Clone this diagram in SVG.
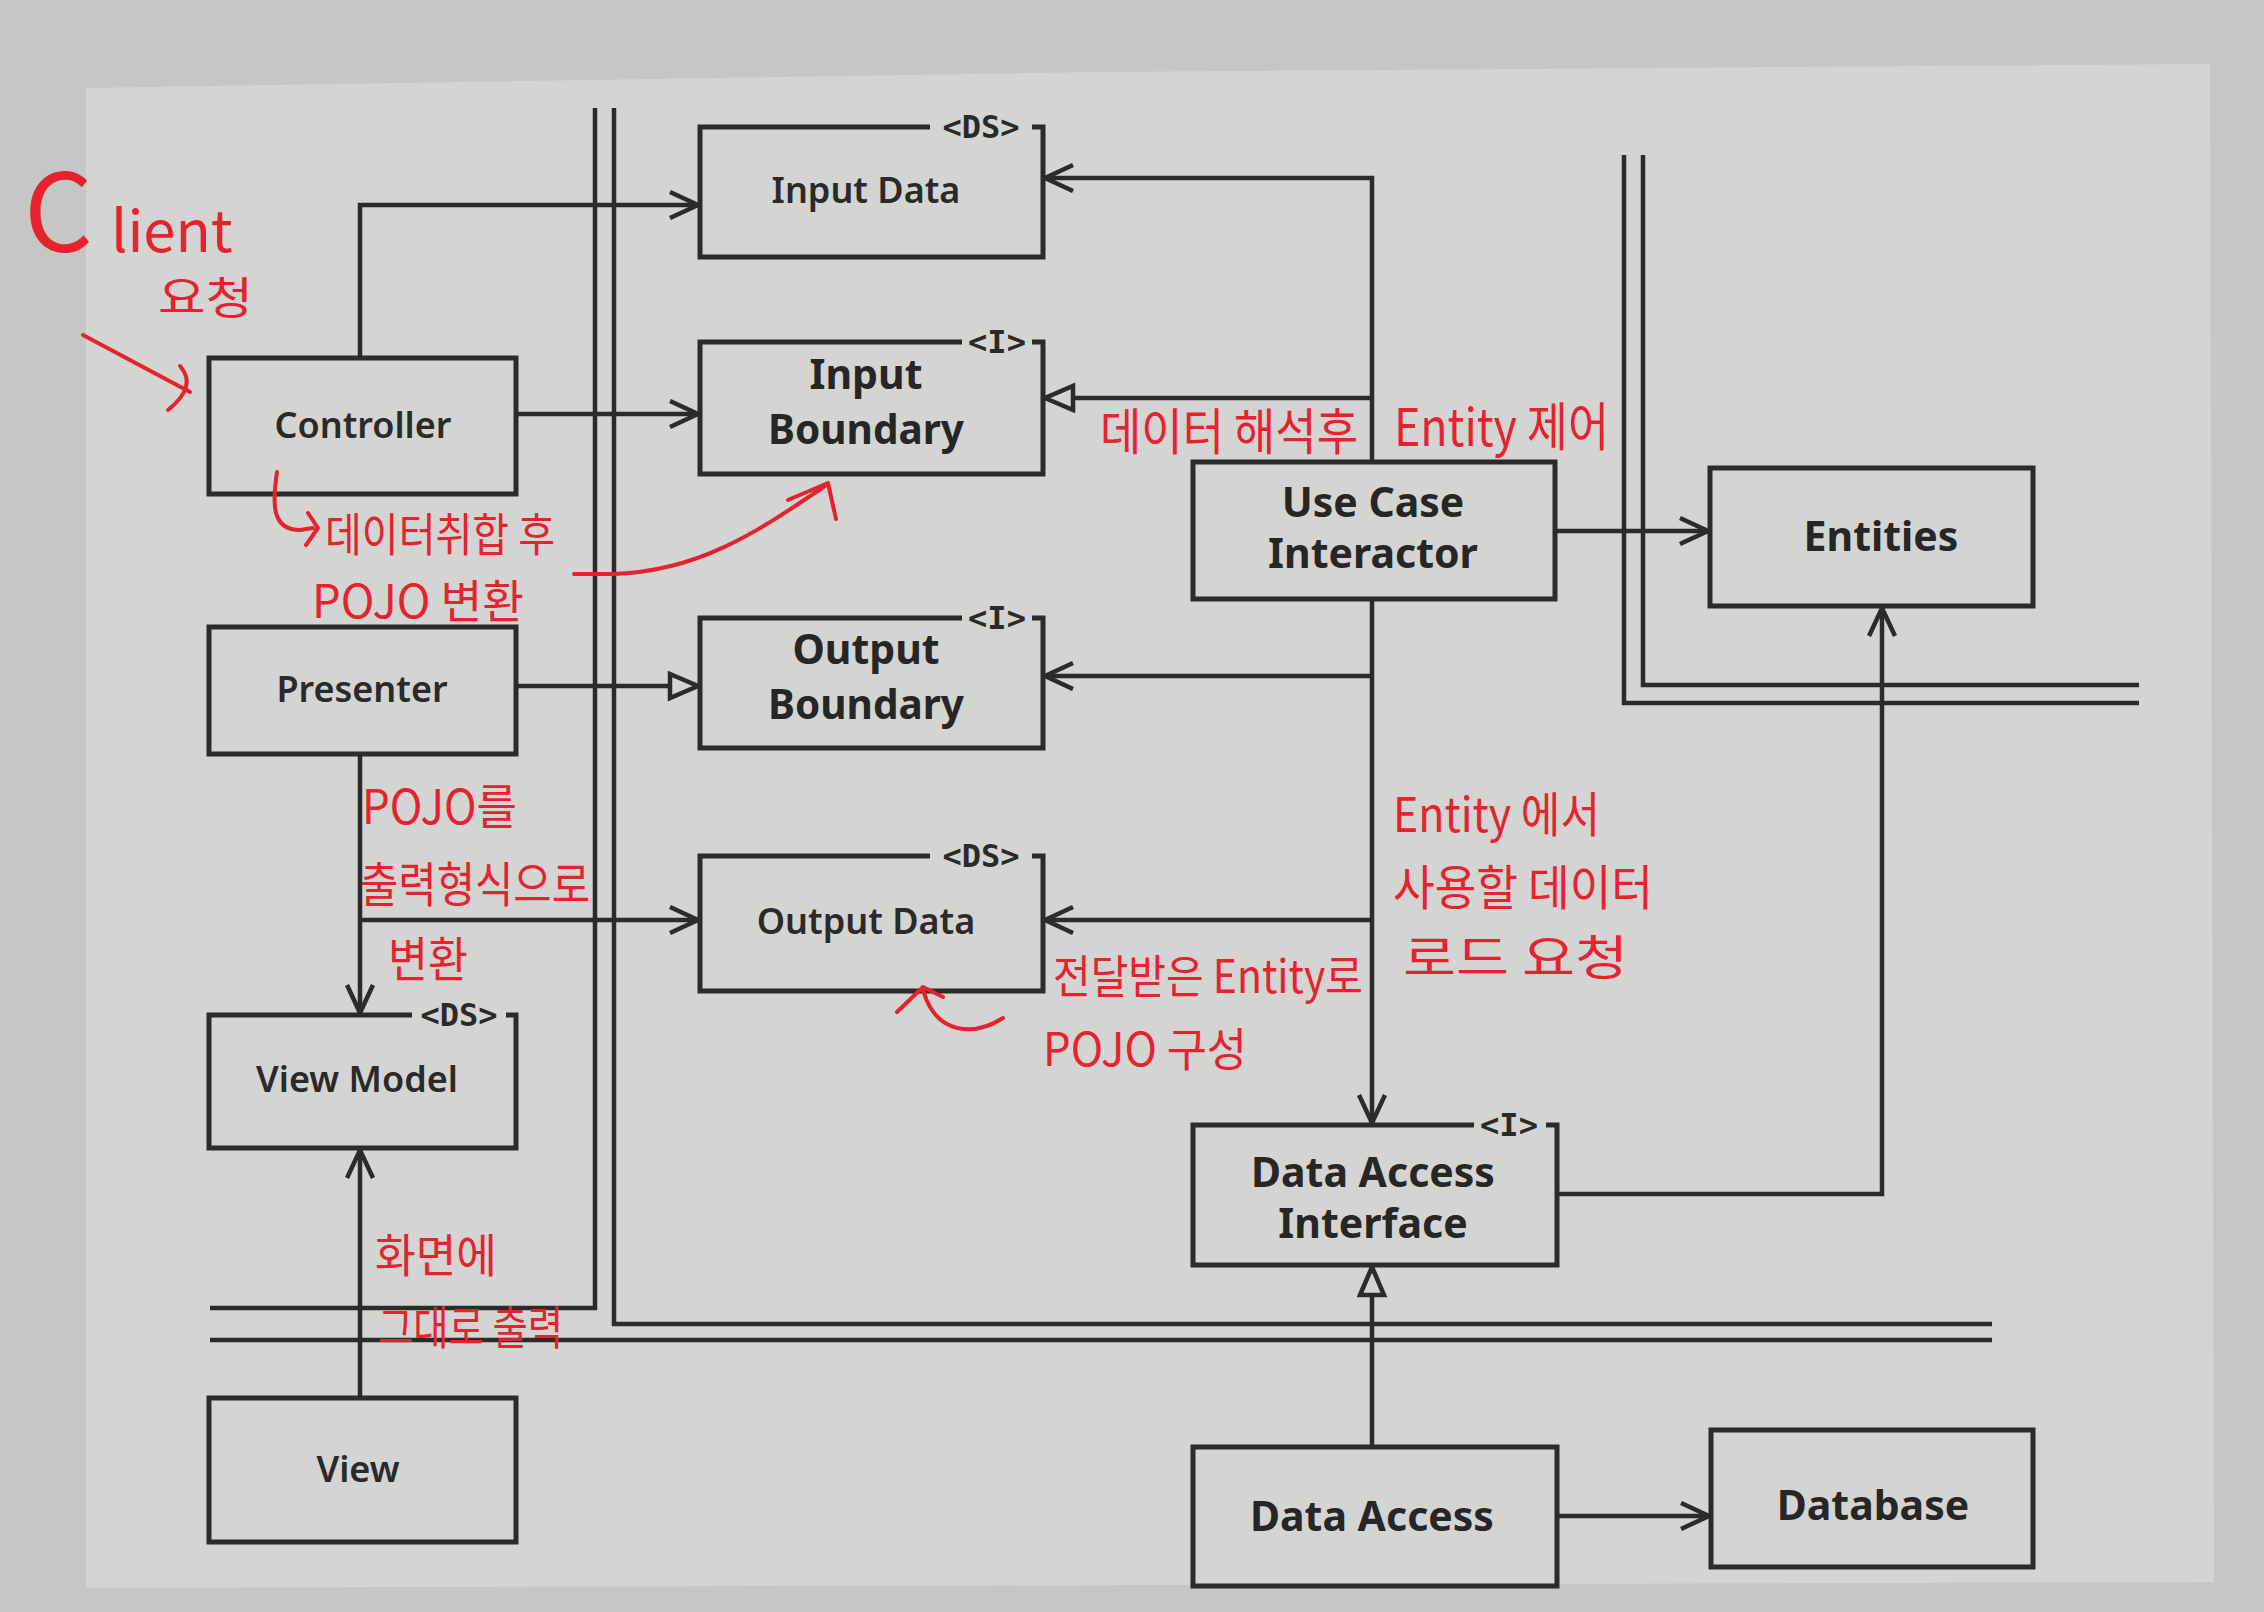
<svg xmlns="http://www.w3.org/2000/svg" width="2264" height="1612" viewBox="0 0 2264 1612">
<defs>
<style>
.box{fill:#d4d4d2;stroke:#2b2b2b;stroke-width:5;stroke-linejoin:miter}
.edge{fill:none;stroke:#2b2b2b;stroke-width:4.5}
.bnd{fill:none;stroke:#2b2b2b;stroke-width:4.5}
.lbl{font-family:"Noto Sans","Open Sans","DejaVu Sans",sans-serif;font-weight:600;font-size:36px;fill:#2a2a2a;text-anchor:middle}
.lblb{font-family:"Noto Sans","Open Sans","DejaVu Sans",sans-serif;font-weight:700;font-size:41px;fill:#262626;text-anchor:middle}
.st{font-family:"DejaVu Sans Mono","Liberation Mono",monospace;font-weight:bold;font-size:32px;fill:#2a2a2a;text-anchor:middle}
.hw{font-family:"Noto Sans CJK KR","Noto Sans",sans-serif;font-weight:400;fill:#e5222d}
.ha{fill:none;stroke:#e5222d;stroke-width:4;stroke-linecap:round;stroke-linejoin:round}
</style>
<marker id="open" markerUnits="userSpaceOnUse" markerWidth="40" markerHeight="40" refX="30" refY="15" orient="auto" viewBox="0 0 40 40">
<path d="M2,2 L30,15 L2,28" fill="none" stroke="#2b2b2b" stroke-width="4.5"/>
</marker>
<marker id="tri" markerUnits="userSpaceOnUse" markerWidth="40" markerHeight="40" refX="31" refY="15" orient="auto" viewBox="0 0 40 40">
<path d="M3,3 L31,15 L3,27 Z" fill="#d4d4d2" stroke="#2b2b2b" stroke-width="4.5"/>
</marker>
</defs>

<rect x="0" y="0" width="2264" height="1612" fill="#c6c6c4"/>
<polygon points="86,88 1100,72 2210,64 2214,1582 86,1588" fill="#d4d4d2"/>

<g id="boundaries">
<path class="bnd" d="M595,108 V1308 H210"/>
<path class="bnd" d="M614,108 V1324 H1992"/>
<path class="bnd" d="M210,1340 H1992"/>
<path class="bnd" d="M1624,155 V703 H2139"/>
<path class="bnd" d="M1643,155 V685 H2139"/>
</g>

<g id="connectors">
<path class="edge" d="M360,358 V205 H698" marker-end="url(#open)"/>
<path class="edge" d="M516,414 H698" marker-end="url(#open)"/>
<path class="edge" d="M516,686 H698" marker-end="url(#tri)"/>
<path class="edge" d="M360,754 V1013" marker-end="url(#open)"/>
<path class="edge" d="M360,920 H698" marker-end="url(#open)"/>
<path class="edge" d="M360,1398 V1150" marker-end="url(#open)"/>
<path class="edge" d="M1372,462 V178 H1045" marker-end="url(#open)"/>
<path class="edge" d="M1372,398 H1045" marker-end="url(#tri)"/>
<path class="edge" d="M1555,531 H1708" marker-end="url(#open)"/>
<path class="edge" d="M1372,599 V1123" marker-end="url(#open)"/>
<path class="edge" d="M1372,676 H1045" marker-end="url(#open)"/>
<path class="edge" d="M1372,920 H1045" marker-end="url(#open)"/>
<path class="edge" d="M1557,1194 H1882 V608" marker-end="url(#open)"/>
<path class="edge" d="M1372,1447 V1267" marker-end="url(#tri)"/>
<path class="edge" d="M1557,1516 H1709" marker-end="url(#open)"/>
</g>

<g id="input-data">
<path class="box" d="M1032,127 H1043 V257 H700 V127 H930"/>
<text class="st" x="981" y="138">&lt;DS&gt;</text>
<text class="lbl" x="866" y="203">Input Data</text>
</g>
<g id="input-boundary">
<path class="box" d="M1032,342 H1043 V474 H700 V342 H962"/>
<text class="st" x="997" y="353">&lt;I&gt;</text>
<text class="lblb" x="866" y="389" font-size="39">Input</text>
<text class="lblb" x="866" y="444" font-size="39" textLength="196" lengthAdjust="spacingAndGlyphs">Boundary</text>
</g>
<g id="output-boundary">
<path class="box" d="M1032,618 H1043 V748 H700 V618 H962"/>
<text class="st" x="997" y="629">&lt;I&gt;</text>
<text class="lblb" x="866" y="664" font-size="39">Output</text>
<text class="lblb" x="866" y="719" font-size="39" textLength="196" lengthAdjust="spacingAndGlyphs">Boundary</text>
</g>
<g id="output-data">
<path class="box" d="M1032,856 H1043 V991 H700 V856 H930"/>
<text class="st" x="981" y="867">&lt;DS&gt;</text>
<text class="lbl" x="866" y="934">Output Data</text>
</g>
<g id="controller">
<rect class="box" x="209" y="358" width="307" height="136"/>
<text class="lbl" x="363" y="438">Controller</text>
</g>
<g id="presenter">
<rect class="box" x="209" y="627" width="307" height="127"/>
<text class="lbl" x="362" y="702">Presenter</text>
</g>
<g id="view-model">
<path class="box" d="M506,1015 H516 V1148 H209 V1015 H412"/>
<text class="st" x="459" y="1026">&lt;DS&gt;</text>
<text class="lbl" x="357" y="1092">View Model</text>
</g>
<g id="view">
<rect class="box" x="209" y="1398" width="307" height="144"/>
<text class="lbl" x="358" y="1482">View</text>
</g>
<g id="use-case-interactor">
<rect class="box" x="1193" y="462" width="362" height="137"/>
<text class="lblb" x="1373" y="517">Use Case</text>
<text class="lblb" x="1373" y="568">Interactor</text>
</g>
<g id="entities">
<rect class="box" x="1710" y="468" width="323" height="138"/>
<text class="lblb" x="1881" y="551">Entities</text>
</g>
<g id="data-access-interface">
<path class="box" d="M1546,1125 H1557 V1265 H1193 V1125 H1474"/>
<text class="st" x="1509" y="1136">&lt;I&gt;</text>
<text class="lblb" x="1373" y="1187">Data Access</text>
<text class="lblb" x="1373" y="1238">Interface</text>
</g>
<g id="data-access">
<rect class="box" x="1193" y="1447" width="364" height="139"/>
<text class="lblb" x="1372" y="1531">Data Access</text>
</g>
<g id="database">
<rect class="box" x="1711" y="1430" width="322" height="137"/>
<text class="lblb" x="1873" y="1520">Database</text>
</g>

<g id="annotations">
<text class="hw" x="24" y="252" font-weight="300"><tspan font-size="108">C</tspan><tspan font-size="58" dx="18">lient</tspan></text>
<text class="hw" x="158" y="314" font-size="44" textLength="95" lengthAdjust="spacingAndGlyphs">요청</text>
<path class="ha" d="M83,335 L190,392 M180,366 Q198,386 168,410"/>

<path class="ha" d="M277,472 C272,505 272,530 300,530 L313,528 M308,513 L318,528 L306,545"/>
<text class="hw" x="325" y="551" font-size="46" textLength="230" lengthAdjust="spacingAndGlyphs">데이터취합 후</text>
<text class="hw" x="312" y="618" font-size="46" textLength="212" lengthAdjust="spacingAndGlyphs">POJO 변환</text>
<path class="ha" d="M574,574 L612,574 C700,572 760,530 828,484 M788,500 L828,483 L836,519"/>

<text class="hw" x="1100" y="450" font-size="50" textLength="258" lengthAdjust="spacingAndGlyphs">데이터 해석후</text>
<text class="hw" x="1394" y="446" font-size="52" textLength="215" lengthAdjust="spacingAndGlyphs">Entity 제어</text>

<text class="hw" x="1393" y="832" font-size="48" textLength="207" lengthAdjust="spacingAndGlyphs">Entity 에서</text>
<text class="hw" x="1393" y="905" font-size="48" textLength="260" lengthAdjust="spacingAndGlyphs">사용할 데이터</text>
<text class="hw" x="1403" y="975" font-size="48" textLength="225" lengthAdjust="spacingAndGlyphs">로드 요청</text>

<text class="hw" x="1053" y="993" font-size="46" textLength="310" lengthAdjust="spacingAndGlyphs">전달받은 Entity로</text>
<text class="hw" x="1043" y="1066" font-size="46" textLength="204" lengthAdjust="spacingAndGlyphs">POJO 구성</text>
<path class="ha" d="M1003,1018 C975,1036 936,1036 923,990 M897,1012 L923,987 L943,997"/>

<text class="hw" x="362" y="824" font-size="48" textLength="155" lengthAdjust="spacingAndGlyphs">POJO를</text>
<text class="hw" x="360" y="902" font-size="48" textLength="230" lengthAdjust="spacingAndGlyphs">출력형식으로</text>
<text class="hw" x="388" y="977" font-size="48" textLength="80" lengthAdjust="spacingAndGlyphs">변환</text>

<text class="hw" x="375" y="1272" font-size="46" textLength="122" lengthAdjust="spacingAndGlyphs">화면에</text>
<text class="hw" x="378" y="1344" font-size="46" textLength="185" lengthAdjust="spacingAndGlyphs">그대로 출력</text>
</g>
</svg>
